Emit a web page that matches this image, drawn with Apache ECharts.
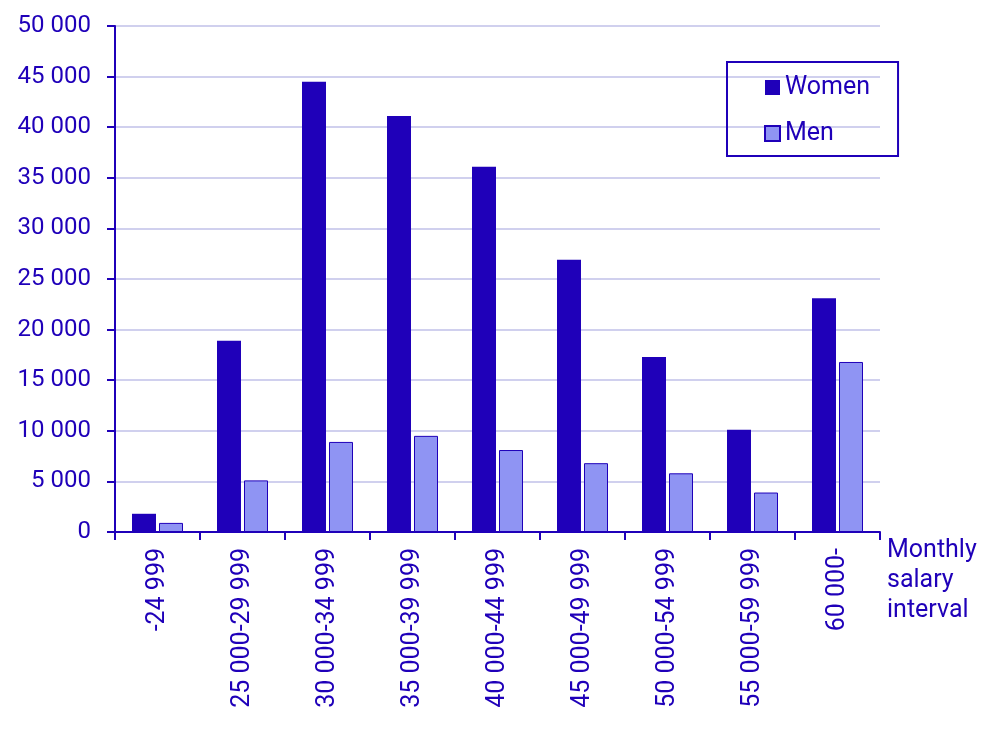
<!DOCTYPE html>
<html>
<head>
<meta charset="utf-8">
<script src="https://cdn.jsdelivr.net/npm/echarts@6/dist/echarts.min.js"></script>
<style>
  html, body { margin: 0; padding: 0; background: #fff; }
  #chart { width: 1004px; height: 742px; }
</style>
</head>
<body>
<div id="chart"></div>
<script>
// salary intervals (SEK per month)
var categories = ['-24 999', '25 000-29 999', '30 000-34 999', '35 000-39 999', '40 000-44 999',
                  '45 000-49 999', '50 000-54 999', '55 000-59 999', '60 000-'];
var women = [1800, 18900, 44500, 41100, 36100, 26900, 17300, 10100, 23100];
var men = [900, 5100, 8900, 9500, 8100, 6800, 5800, 3900, 16800];
var yTicks = [0, 5000, 10000, 15000, 20000, 25000, 30000, 35000, 40000, 45000, 50000];

var blue = '#1f00b9';
var lightBlue = '#8f94f3';
var font = 'Roboto';

var chart = echarts.init(document.getElementById('chart'));

var option = {
    backgroundColor: '#fff',
    animation: false,
    textStyle: { fontFamily: font, color: blue },
    grid: { left: 115, right: 124, top: 26, bottom: 210 },
    legend: {
        orient: 'vertical',
        left: 727,
        top: 62,
        padding: [13, 28, 10, 37],
        itemGap: 21,
        itemWidth: 15,
        itemHeight: 15,
        borderColor: blue,
        borderWidth: 2,
        textStyle: { fontFamily: font, fontSize: 25, color: blue, lineHeight: 25 },
        data: [
            { name: 'Women', icon: 'rect' },
            { name: 'Men', icon: 'rect' }
        ]
    },
    xAxis: {
        type: 'category',
        data: categories,
        name: 'Monthly\nsalary\ninterval',
        nameLocation: 'end',
        nameGap: 7,
        nameTextStyle: {
            fontFamily: font, fontSize: 25, color: blue,
            align: 'left', verticalAlign: 'top', lineHeight: 30,
            padding: [4, 0, 0, 0]
        },
        axisLine: { lineStyle: { color: blue, width: 2 } },
        axisTick: { show: true, length: 8, lineStyle: { color: blue, width: 2 } },
        axisLabel: {
            rotate: 90, margin: 16, interval: 0,
            fontFamily: font, fontSize: 25, color: blue
        },
        splitLine: { show: false }
    },
    yAxis: {
        type: 'value',
        min: 0,
        max: 50000,
        interval: 5000,
        axisLine: { show: true, lineStyle: { color: blue, width: 2 } },
        axisTick: { show: true, length: 8, lineStyle: { color: blue, width: 2 } },
        axisLabel: {
            margin: 24, fontFamily: font, fontSize: 24, color: blue,
            formatter: function (v) {
                return yTicks.indexOf(v) < 0 ? '' :
                    String(v).replace(/\B(?=(\d{3})+(?!\d))/g, ' ');
            }
        },
        splitLine: { show: true, lineStyle: { color: '#d0d0ee', width: 2 } }
    },
    series: [
        {
            name: 'Women',
            type: 'bar',
            data: women,
            barWidth: 24,
            barGap: '12.5%',
            itemStyle: { color: blue }
        },
        {
            name: 'Men',
            type: 'bar',
            data: men,
            barWidth: 24,
            itemStyle: { color: lightBlue, borderColor: blue, borderWidth: 1 }
        }
    ]
};

chart.setOption(option);
</script>
</body>
</html>
